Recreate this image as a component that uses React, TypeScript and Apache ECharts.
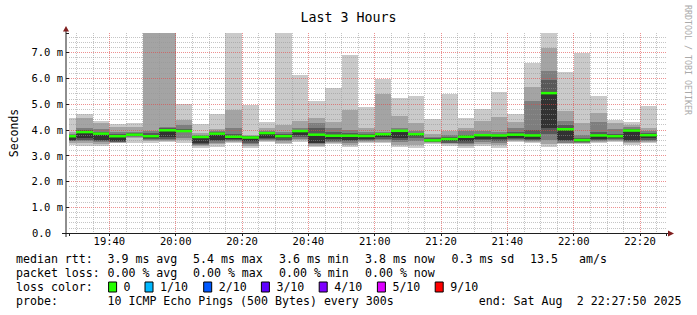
import React, { useEffect, useRef } from "react";
import * as echarts from "echarts";

// ---------- data ----------
const rangeStart = "19:27:50";
const rangeEnd = "22:27:50";
const stepMinutes = 5;
const stepEnds = [
  "19:30", "19:35", "19:40", "19:45", "19:50", "19:55", "20:00", "20:05", "20:10",
  "20:15", "20:20", "20:25", "20:30", "20:35", "20:40", "20:45", "20:50", "20:55",
  "21:00", "21:05", "21:10", "21:15", "21:20", "21:25", "21:30", "21:35", "21:40",
  "21:45", "21:50", "21:55", "22:00", "22:05", "22:10", "22:15", "22:20", "22:25",
];
// sorted ping rtts (ms), rank 1 = fastest .. rank 10 = slowest
const ping1 = [3.41, 3.39, 3.39, 3.48, 3.47, 3.5, 3.54, 3.48, 3.3, 3.35, 3.48, 3.3, 3.54, 3.46, 3.54, 3.35, 3.44, 3.32, 3.48, 3.48, 3.35, 3.31, 3.44, 3.39, 3.31, 3.39, 3.31, 3.54, 3.48, 3.32, 3.44, 3.44, 3.48, 3.54, 3.42, 3.48];
const ping2 = [3.48, 3.48, 3.45, 3.5, 3.68, 3.58, 3.58, 3.6, 3.36, 3.44, 3.52, 3.38, 3.57, 3.5, 3.6, 3.39, 3.48, 3.4, 3.52, 3.54, 3.42, 3.4, 3.48, 3.44, 3.38, 3.45, 3.4, 3.56, 3.53, 3.45, 3.47, 3.47, 3.52, 3.57, 3.48, 3.52];
const ping3 = [3.55, 3.58, 3.52, 3.52, 3.72, 3.62, 3.62, 3.67, 3.42, 3.5, 3.56, 3.45, 3.6, 3.56, 3.65, 3.43, 3.53, 3.48, 3.56, 3.6, 3.52, 3.55, 3.51, 3.47, 3.44, 3.52, 3.48, 3.6, 3.58, 3.6, 3.5, 3.5, 3.56, 3.6, 3.52, 3.56];
const ping4 = [3.58, 3.62, 3.56, 3.54, 3.74, 3.66, 3.66, 3.9, 3.46, 3.56, 3.6, 3.5, 3.64, 3.62, 3.72, 3.47, 3.58, 3.55, 3.6, 3.66, 3.62, 3.68, 3.54, 3.5, 3.5, 3.6, 3.58, 3.65, 3.62, 3.85, 3.56, 3.53, 3.6, 3.64, 3.56, 3.62];
const ping5 = [3.62, 3.68, 3.6, 3.56, 3.77, 3.7, 3.72, 3.92, 3.5, 3.61, 3.65, 3.55, 3.7, 3.68, 3.8, 3.5, 3.63, 3.62, 3.66, 3.72, 3.7, 3.74, 3.56, 3.55, 3.55, 3.66, 3.66, 3.7, 3.66, 4.05, 3.6, 3.55, 3.65, 3.68, 3.6, 3.68];
const ping6 = [3.77, 3.94, 3.88, 3.78, 3.84, 3.78, 4.0, 3.98, 3.74, 3.87, 3.76, 3.72, 3.89, 3.78, 3.97, 3.84, 3.8, 3.8, 3.78, 3.85, 3.98, 3.85, 3.62, 3.67, 3.75, 3.81, 3.8, 3.84, 3.8, 5.45, 4.05, 3.63, 3.8, 3.78, 3.99, 3.82];
const ping7 = [3.8, 4.0, 3.92, 3.82, 3.86, 3.88, 4.06, 4.02, 3.76, 3.9, 3.85, 3.74, 3.9, 3.82, 4.0, 4.05, 3.9, 3.88, 3.82, 3.87, 4.0, 3.88, 3.68, 3.72, 3.8, 3.85, 3.84, 3.92, 3.98, 5.93, 4.19, 3.7, 3.9, 3.85, 4.02, 3.88];
const ping8 = [3.85, 4.08, 4.03, 3.9, 3.92, 3.96, 4.12, 4.17, 3.8, 3.95, 4.05, 3.76, 3.95, 3.9, 4.08, 4.25, 4.05, 4.0, 3.9, 3.9, 4.05, 3.95, 3.72, 3.8, 3.95, 3.95, 3.9, 4.05, 5.1, 6.28, 4.34, 3.8, 4.29, 4.03, 4.1, 3.95];
const ping9 = [3.92, 4.44, 4.25, 4.09, 4.1, 7.85, 7.85, 4.39, 3.86, 4.03, 4.76, 3.8, 4.05, 4.18, 4.34, 4.47, 4.29, 4.76, 4.08, 5.37, 4.54, 4.25, 3.82, 3.95, 4.05, 4.34, 4.48, 4.29, 5.67, 7.16, 4.73, 4.25, 4.65, 4.25, 4.18, 4.08];
const ping10 = [4.47, 4.6, 4.34, 4.21, 4.25, 7.9, 7.9, 5.0, 4.21, 4.6, 7.9, 4.96, 4.29, 7.9, 6.12, 5.1, 5.6, 6.9, 4.87, 5.97, 5.22, 5.3, 4.42, 5.39, 4.45, 4.79, 5.45, 4.6, 6.58, 7.9, 6.23, 6.97, 5.3, 4.38, 4.29, 4.92];
const medianRtt = [3.75, 3.91, 3.85, 3.75, 3.81, 3.75, 3.98, 3.95, 3.72, 3.85, 3.73, 3.7, 3.87, 3.75, 3.95, 3.81, 3.77, 3.77, 3.76, 3.83, 3.96, 3.83, 3.59, 3.64, 3.73, 3.79, 3.78, 3.81, 3.78, 5.42, 4.02, 3.6, 3.78, 3.75, 3.97, 3.79];

const yMax = 7.75;
const yMajorStep = 1;
const yMinorSplit = 5; // 0.2 m minor grid
const xMajorStep = 20;
const xMinorSplit = 4; // 5 min minor grid

const smokeColors = ["#cacaca", "#a4a4a4", "#7e7e7e", "#585858", "#323232"];
const medianColor = "#26ff00";

const statRtt = ["3.9 ms avg", "5.4 ms max", "3.6 ms min", "3.8 ms now", "0.3 ms sd"];
const statRttExtra = ["13.5", "am/s"];
const statLoss = ["0.00 % avg", "0.00 % max", "0.00 % min", "0.00 % now"];
const lossLabels = ["0", "1/10", "2/10", "3/10", "4/10", "5/10", "9/10"];
const lossColors = ["#26ff00", "#00b8ff", "#0059ff", "#5e00ff", "#7e00ff", "#dd00ff", "#ff0000"];
const probeText = "10 ICMP Echo Pings (500 Bytes) every 300s";
const endTextA = "end: Sat Aug";
const endTextB = "2 22:27:50 2025";

// ---------- helpers ----------
const MONO = '"DejaVu Sans Mono", "Liberation Mono", monospace';
const toMin = (s: string) => {
  const [h, m, sec] = s.split(":").map(Number);
  return h * 60 + m + (sec || 0) / 60;
};
const isMultiple = (v: number, step: number) => {
  const r = v / step;
  return Math.abs(r - Math.round(r)) < 1e-6;
};
const fmtTime = (v: number) => {
  const r = Math.round(v);
  const h = Math.floor(r / 60);
  const m = r % 60;
  return `${h}:${m < 10 ? "0" + m : m}`;
};

const xMin = toMin(rangeStart);
const xMax = toMin(rangeEnd);

function smokeSeries(lo: number[], hi: number[], color: string) {
  return {
    type: "custom",
    silent: true,
    z: 2,
    encode: { x: [0, 1], y: [2, 3] },
    data: stepEnds.map((t, i) => [toMin(t) - stepMinutes, toMin(t), lo[i], hi[i]]),
    renderItem: (params: any, api: any) => {
      const cs = params.coordSys;
      const a = api.coord([api.value(0), api.value(3)]);
      const b = api.coord([api.value(1), api.value(2)]);
      const x0 = Math.round(a[0]);
      const x1 = Math.round(b[0]);
      const y0 = Math.round(a[1]);
      const y1 = Math.round(b[1]);
      const shape = echarts.graphic.clipRectByRect(
        { x: x0, y: y0, width: x1 - x0, height: y1 - y0 },
        { x: cs.x, y: cs.y, width: cs.width, height: cs.height }
      );
      if (!shape) return null;
      return { type: "rect", shape, style: { fill: color } };
    },
  };
}

function medianSeries() {
  return {
    type: "custom",
    silent: true,
    z: 20,
    encode: { x: [0, 1], y: 2 },
    data: stepEnds.map((t, i) => [toMin(t) - stepMinutes, toMin(t), medianRtt[i]]),
    renderItem: (params: any, api: any) => {
      const cs = params.coordSys;
      const a = api.coord([api.value(0), api.value(2)]);
      const b = api.coord([api.value(1), api.value(2)]);
      const x0 = Math.round(a[0]);
      const x1 = Math.round(b[0]);
      const shape = echarts.graphic.clipRectByRect(
        { x: x0, y: a[1] - 1.25, width: x1 - x0, height: 2.5 },
        { x: cs.x, y: cs.y, width: cs.width, height: cs.height }
      );
      if (!shape) return null;
      return { type: "rect", shape, style: { fill: medianColor } };
    },
  };
}

const txt = (text: string, x: number, y: number, extra: any = {}) => ({
  type: "text",
  x,
  y,
  z: 100,
  silent: true,
  style: {
    text,
    fill: "#000",
    font: `11.6px ${MONO}`,
    align: "left",
    verticalAlign: "middle",
    ...extra,
  },
});

export default function App() {
  const ref = useRef<HTMLDivElement>(null);

  useEffect(() => {
    document.body.style.margin = "0";
    if (!ref.current) return;
    const chart = echarts.init(ref.current, null, { renderer: "svg" });

    const pings = [ping1, ping2, ping3, ping4, ping5, ping6, ping7, ping8, ping9, ping10];
    const layers = smokeColors.map((c, i) => smokeSeries(pings[i], pings[9 - i], c));

    const minorGrid = { color: "rgba(150,150,150,0.55)", type: [1, 1], width: 1 };
    const majorGrid = { color: "rgba(225,70,70,0.6)", type: [1, 1], width: 1 };

    const rowX = [107.5, 193, 279, 365, 451.5];
    const graphics: any[] = [];
    // axis lines + arrows
    graphics.push({ type: "line", z: 90, silent: true, shape: { x1: 62, y1: 233.5, x2: 671, y2: 233.5 }, style: { stroke: "#1f1f1f", lineWidth: 1 } });
    graphics.push({ type: "line", z: 90, silent: true, shape: { x1: 66, y1: 237, x2: 66, y2: 30 }, style: { stroke: "#1f1f1f", lineWidth: 1 } });
    graphics.push({ type: "polygon", z: 91, silent: true, shape: { points: [[668, 230.5], [674, 233.5], [668, 236.5]] }, style: { fill: "rgb(128,31,31)" } });
    graphics.push({ type: "polygon", z: 91, silent: true, shape: { points: [[63, 31.5], [66, 26], [69, 31.5]] }, style: { fill: "rgb(128,31,31)" } });
    // watermark
    graphics.push({
      type: "text", x: 688, y: 5, rotation: -Math.PI / 2, z: 100, silent: true,
      style: { text: "RRDTOOL / TOBI OETIKER", fill: "#aaaaaa", font: `8.3px ${MONO}`, align: "left", verticalAlign: "middle" },
    });
    // legend rows
    graphics.push(txt("median rtt:", 16, 259));
    statRtt.forEach((s, i) => graphics.push(txt(s, rowX[i], 259)));
    graphics.push(txt(statRttExtra[0], 530, 259));
    graphics.push(txt(statRttExtra[1], 579, 259));
    graphics.push(txt("packet loss:", 16, 273));
    statLoss.forEach((s, i) => graphics.push(txt(s, rowX[i], 273)));
    graphics.push(txt("loss color:", 16, 287));
    const lossX = [123.6, 160, 218.7, 276.4, 334.2, 392.4, 450.2];
    lossLabels.forEach((s, i) => {
      graphics.push({
        type: "rect", z: 100, silent: true,
        shape: { x: lossX[i] - 15, y: 282, width: 8, height: 10 },
        style: { fill: lossColors[i], stroke: "#000", lineWidth: 1 },
      });
      graphics.push(txt(s, lossX[i], 287));
    });
    graphics.push(txt("probe:", 16, 301));
    graphics.push(txt(probeText, 107.5, 301));
    graphics.push(txt(endTextA, 478.7, 301));
    graphics.push(txt(endTextB, 576.7, 301));

    chart.setOption({
      animation: false,
      backgroundColor: "#ffffff",
      textStyle: { fontFamily: MONO },
      title: {
        text: "Last 3 Hours",
        left: "center",
        top: 6,
        textStyle: { fontFamily: MONO, fontSize: 13.3, fontWeight: "normal", color: "#000" },
      },
      grid: { left: 66, top: 33, width: 600, height: 200, containLabel: false },
      xAxis: {
        type: "value",
        min: xMin,
        max: xMax,
        splitNumber: 9,
        minInterval: xMajorStep,
        maxInterval: xMajorStep,
        z: 8,
        axisLine: { show: false },
        axisTick: { show: true, length: 3, lineStyle: { color: "#1f1f1f" } },
        minorTick: { show: false, splitNumber: xMinorSplit },
        axisLabel: {
          formatter: (v: number) => (isMultiple(v, xMajorStep) ? fmtTime(v) : ""),
          margin: 2,
          fontFamily: MONO,
          fontSize: 10.5,
          color: "#000",
        },
        splitLine: { show: true, showMinLine: false, showMaxLine: false, lineStyle: majorGrid },
        minorSplitLine: { show: true, lineStyle: minorGrid },
      },
      yAxis: {
        type: "value",
        min: 0,
        max: yMax,
        interval: yMajorStep,
        z: 8,
        name: "Seconds",
        nameLocation: "middle",
        nameRotate: 90,
        nameGap: 49,
        nameTextStyle: { fontFamily: MONO, fontSize: 11.5, color: "#000" },
        axisLine: { show: false },
        axisTick: { show: true, length: 3, lineStyle: { color: "#1f1f1f" } },
        minorTick: { show: false, splitNumber: yMinorSplit },
        axisLabel: {
          margin: 6,
          fontFamily: MONO,
          fontSize: 10.5,
          color: "#000",
          formatter: (v: number) =>
            !isMultiple(v, yMajorStep) ? "" : v === 0 ? "{z|0.0}" : `${v.toFixed(1)} m`,
          rich: { z: { fontFamily: MONO, fontSize: 10.5, color: "#000", padding: [0, 12, 0, 0] } },
        },
        splitLine: { show: true, showMinLine: false, showMaxLine: false, lineStyle: majorGrid },
        minorSplitLine: { show: true, lineStyle: minorGrid },
      },
      series: [...layers, medianSeries()],
      graphic: graphics,
    });

    return () => chart.dispose();
  }, []);

  return <div ref={ref} style={{ width: 697, height: 315 }} />;
}
